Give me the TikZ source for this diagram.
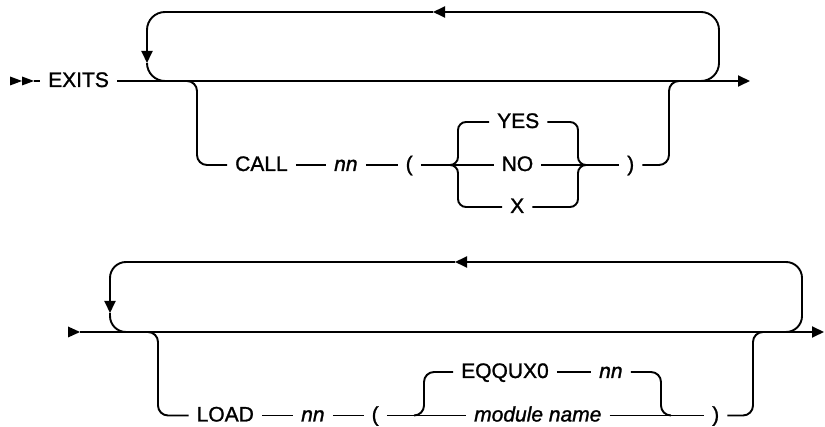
\documentclass[tikz,border=0pt]{standalone}
\usepackage{fontspec}
\setmainfont[FakeBold=1.2]{Liberation Sans}
\usetikzlibrary{arrows.meta}

\begin{document}
\begin{tikzpicture}[x=1pt,y=-1pt,
  rail/.style={line width=1.9pt},
  tok/.style={font=\fontsize{21}{25}\selectfont, inner xsep=8pt, inner ysep=0pt,
              text height=15pt, text depth=3pt, anchor=west},
  var/.style={tok, font=\fontsize{21}{25}\selectfont\itshape},
  arr/.style={-{Triangle[length=12pt,width=11pt]}},
  bigloop/.style={rail, rounded corners=18pt},
  smallloop/.style={rail, rounded corners=16pt},
  railbend/.style={rail, rounded corners=10pt},
  railbrace/.style={rail, rounded corners=8pt}]
\useasboundingbox (0,0) rectangle (825,427);

% ---------------- EXITS statement ----------------
% double start marker
\fill (10,76.5) -- (22,81) -- (10,85.5) -- cycle;
\fill (22,76.5) -- (34,81) -- (22,85.5) -- cycle;
\coordinate (start1) at (34,81);
\node[tok] (exits) at (40,81) {EXITS};
\coordinate (end1) at (750,81);
\draw[rail] (start1) -- (exits.west);
\draw[rail, arr] (exits.east) -- (end1);

% repeat loop
\draw[bigloop, arr] (700,81) -- (719,81) -- (719,12) -- (433,12);
\draw[bigloop, arr] (433,12) -- (147,12) -- (147,63);
\draw[bigloop] (147,63) -- (147,81) -- (166,81);

% CALL branch
\node[tok] (call) at (227,165) {CALL};
\node[var] (nn1) at (326,165) {nn};
\node[tok] (lp1) at (397.5,165) {(};
\node[tok] (yes) at (489,122) {YES};
\node[tok] (no) at (493.5,165) {NO};
\node[tok] (xx) at (502,207) {X};
\node[tok] (rp1) at (619,165) {)};

\draw[railbend] (185,81) -- (197,81) -- (197,165) -- (call.west);
\draw[rail] (call.east) -- (nn1.west);
\draw[rail] (nn1.east) -- (lp1.west);
\draw[rail] (lp1.east) -- (no.west);
\draw[railbrace] (450,165) -- (458,165) -- (458,122) -- (yes.west);
\draw[railbrace] (450,165) -- (458,165) -- (458,207) -- (xx.west);
\draw[railbrace] (yes.east) -- (578,122) -- (578,165) -- (586,165);
\draw[railbrace] (xx.east) -- (578,207) -- (578,165) -- (586,165);
\draw[rail] (no.east) -- (rp1.west);
\draw[railbend] (rp1.east) -- (669,165) -- (669,81) -- (681,81);

% ---------------- LOAD statement ----------------
\fill (68,326.5) -- (80,332) -- (68,337.5) -- cycle;
\coordinate (start2) at (80,332);
\coordinate (end2) at (824,332);
\draw[rail, arr] (start2) -- (end2);

% repeat loop
\draw[smallloop, arr] (786,332) -- (802,332) -- (802,262) -- (455,262);
\draw[smallloop, arr] (455,262) -- (110,262) -- (110,313);
\draw[smallloop] (110,313) -- (110,332) -- (127,332);

% LOAD branch
\node[tok] (load) at (188.5,415.5) {LOAD};
\node[var] (nn2) at (293,415.5) {nn};
\node[tok] (lp2) at (363.5,415.5) {(};
\node[tok] (eqq) at (453,372) {EQQUX0};
\node[var] (nn3) at (591,372) {nn};
\node[var] (mod) at (466,415.5) {module name};
\node[tok] (rp2) at (704,415.5) {)};

\draw[railbend] (148,332) -- (158,332) -- (158,415.5) -- (load.west);
\draw[rail] (load.east) -- (nn2.west);
\draw[rail] (nn2.east) -- (lp2.west);
\draw[rail] (lp2.east) -- (mod.west);
\draw[railbend] (414,415.5) -- (424,415.5) -- (424,372) -- (eqq.west);
\draw[rail] (eqq.east) -- (nn3.west);
\draw[railbend] (nn3.east) -- (661,372) -- (661,415.5) -- (671,415.5);
\draw[rail] (mod.east) -- (rp2.west);
\draw[railbend] (rp2.east) -- (753,415.5) -- (753,332) -- (763,332);
\end{tikzpicture}
\end{document}
